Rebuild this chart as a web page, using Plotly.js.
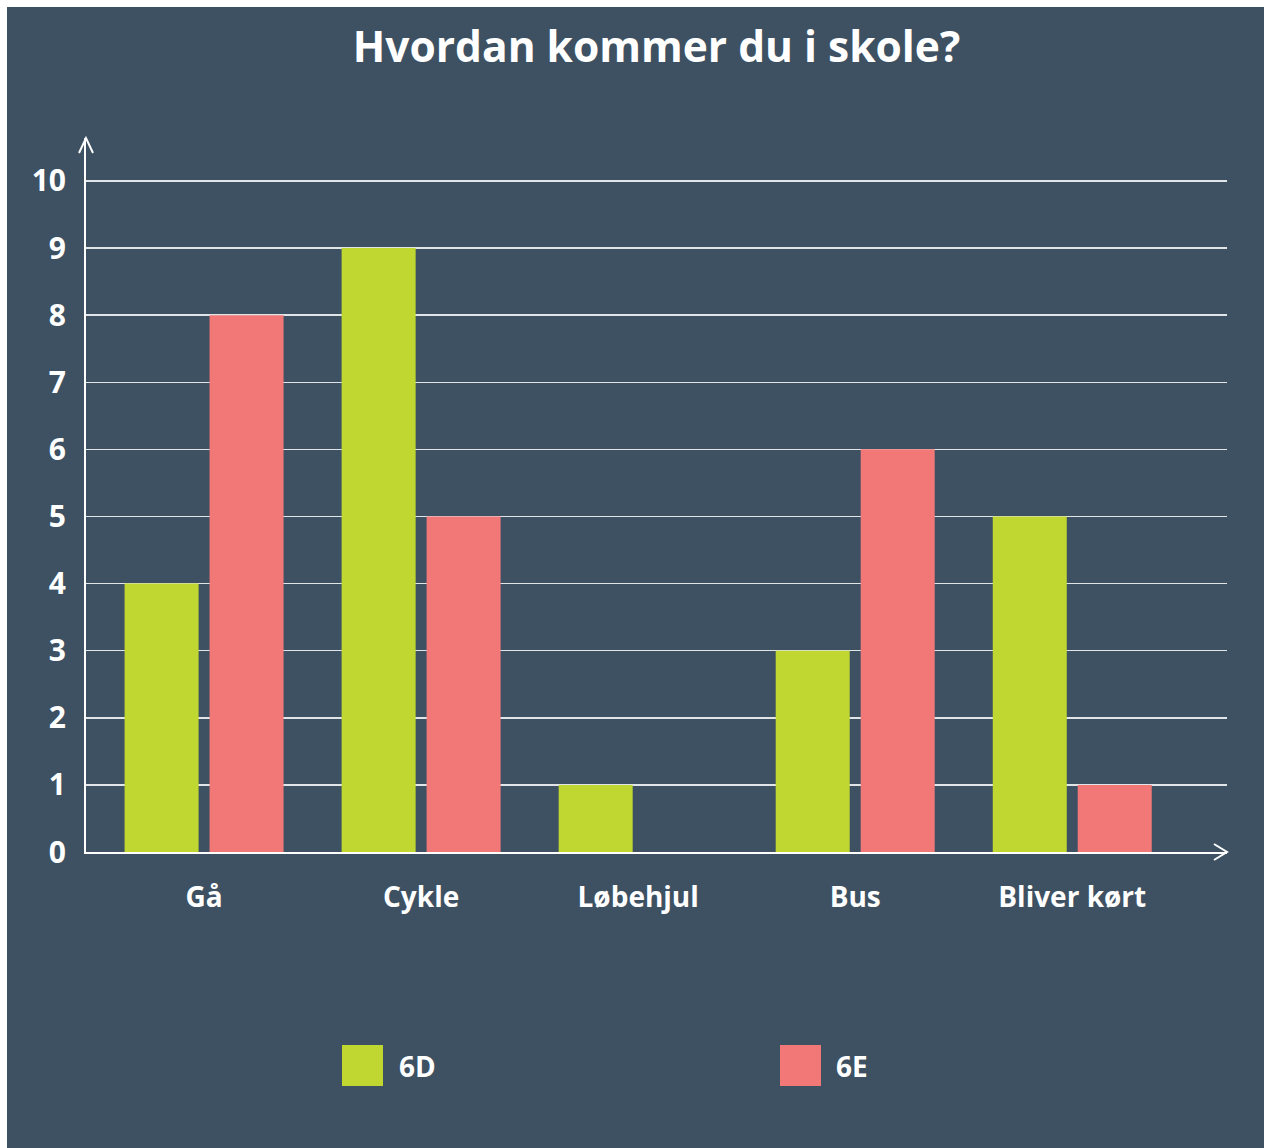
<!DOCTYPE html>
<html>
<head>
<meta charset="utf-8">
<script src="https://cdn.plot.ly/plotly-3.0.1.min.js"></script>
<style>
html,body{margin:0;padding:0;background:#ffffff;}
#chart{position:absolute;left:7px;top:7px;width:1257px;height:1141px;}
</style>
</head>
<body>
<div id="chart"></div>
<script>
const categories = ["Gå", "Cykle", "Løbehjul", "Bus", "Bliver kørt"];
const seriesNames = ["6D", "6E"];
const values6D = [4, 9, 1, 3, 5];
const values6E = [8, 5, 0, 6, 1];
const yTicks = [0, 1, 2, 3, 4, 5, 6, 7, 8, 9, 10];
const chartTitle = "Hvordan kommer du i skole?";

const green = "#bfd730";
const red = "#f27878";
const bg = "#3d5163";
const fontFam = "'Open Sans', 'Noto Sans', sans-serif";

const traces = [
  {type: "bar", name: seriesNames[0], x: categories, y: values6D, marker: {color: green}, hoverinfo: "x+y+name"},
  {type: "bar", name: seriesNames[1], x: categories, y: values6E, marker: {color: red}, hoverinfo: "x+y+name"}
];

// plot area in absolute page pixels: x 86..1227, y 138..852
const PX0 = 86, PX1 = 1227, PY0 = 852, PY1 = 138;
const px = v => (v - PX0) / (PX1 - PX0);
const py = v => (PY0 - v) / (PY0 - PY1);

const shapes = [
  {type: "path", xref: "paper", yref: "paper", xsizemode: "pixel", ysizemode: "pixel",
   xanchor: 0, yanchor: 1, path: "M -7 -15 L 0 0 L 7 -15",
   line: {color: "#ffffff", width: 2}},
  {type: "path", xref: "paper", yref: "paper", xsizemode: "pixel", ysizemode: "pixel",
   xanchor: 1, yanchor: 0, path: "M -13 8 L 0 0 L -13 -8",
   line: {color: "#ffffff", width: 2}},
  {type: "rect", xref: "paper", yref: "paper", x0: px(342), x1: px(383), y0: py(1045), y1: py(1086),
   fillcolor: green, line: {width: 0}},
  {type: "rect", xref: "paper", yref: "paper", x0: px(780), x1: px(821), y0: py(1045), y1: py(1086),
   fillcolor: red, line: {width: 0}}
];

const annotations = [
  {xref: "paper", yref: "paper", x: px(397), y: py(1066), xanchor: "left", yanchor: "middle",
   text: seriesNames[0], showarrow: false, font: {family: fontFam, size: 28, color: "#ffffff", weight: 700}},
  {xref: "paper", yref: "paper", x: px(834), y: py(1066), xanchor: "left", yanchor: "middle",
   text: seriesNames[1], showarrow: false, font: {family: fontFam, size: 28, color: "#ffffff", weight: 700}}
];

const layout = {
  width: 1257, height: 1141,
  paper_bgcolor: bg, plot_bgcolor: bg,
  margin: {l: 79, r: 37, t: 131, b: 296, pad: 0},
  showlegend: false,
  barmode: "group",
  bargap: 0.217,
  bargroupgap: 0.129,
  font: {family: fontFam, color: "#ffffff"},
  title: {text: chartTitle, x: 0.5, xref: "paper", y: 1 - 40 / 1141, yref: "container",
          xanchor: "center", yanchor: "middle",
          font: {family: fontFam, size: 42.5, color: "#ffffff", weight: 700}},
  xaxis: {
    type: "category", range: [-0.544, 4.713], fixedrange: true,
    showline: true, linecolor: "#ffffff", linewidth: 2,
    showgrid: false, zeroline: false, ticks: "",
    ticklabelstandoff: 19,
    tickfont: {family: fontFam, size: 28, color: "#ffffff", weight: 700}
  },
  yaxis: {
    range: [0, 10.64], fixedrange: true,
    tickvals: yTicks, ticktext: yTicks.map(String),
    showline: true, linecolor: "#ffffff", linewidth: 2,
    showgrid: true, gridcolor: "rgba(255,255,255,0.85)", gridwidth: 1.5,
    zeroline: false, ticks: "",
    ticklabelstandoff: 12,
    tickfont: {family: fontFam, size: 30, color: "#ffffff", weight: 700}
  },
  shapes: shapes,
  annotations: annotations
};

Plotly.newPlot("chart", traces, layout, {displayModeBar: false, staticPlot: true});
</script>
</body>
</html>
